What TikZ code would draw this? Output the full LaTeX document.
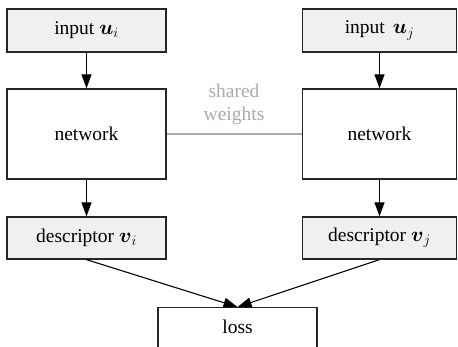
\documentclass[tikz,border=0pt]{standalone}
\usepackage{amsmath}
\usepackage{fontspec}
\setmainfont{Liberation Serif}
\usetikzlibrary{arrows.meta}
\definecolor{boxfill}{HTML}{F0F0F0}
\definecolor{sharegray}{HTML}{AAAAAA}
\tikzset{
  txt/.style={font=\fontsize{19.5}{23}\selectfont},
  block/.style={draw=black!85, line width=1.3pt, rectangle, inner sep=0pt, txt},
  io/.style={block, fill=boxfill},
  flow/.style={line width=1.1pt, -{Triangle[length=14pt,width=10pt]}},
}
\begin{document}
\begin{tikzpicture}[x=1pt,y=-1pt]
\useasboundingbox (0,0) rectangle (458,347);
\clip (0,0) rectangle (458,347);
% left branch
\node[io, minimum width=159pt, minimum height=43pt] (ini) at (86.5,30.5) {input $\boldsymbol{u}_i$};
\node[block, fill=white, minimum width=159pt, minimum height=90pt] (neti) at (86.5,134) {network};
\node[io, minimum width=159pt, minimum height=42pt] (desci) at (86.5,238) {descriptor $\boldsymbol{v}_i$};
% right branch
\node[io, minimum width=154pt, minimum height=43pt] (inj) at (379.5,30.5) {input\, $\boldsymbol{u}_j$};
\node[block, fill=white, minimum width=154pt, minimum height=90pt] (netj) at (379.5,134) {network};
\node[io, minimum width=154pt, minimum height=42pt] (descj) at (379.5,238) {descriptor $\boldsymbol{v}_j$};
% loss
\node[block, fill=white, minimum width=159pt, minimum height=60pt, anchor=north] (loss) at (237.5,307) {};
\node[txt] (losstxt) at (237.5,327) {loss};
% weight sharing
\draw[sharegray, line width=1.1pt] (neti.east) -- (netj.west);
\node[text=sharegray, align=center, font=\fontsize{19.5}{23}\selectfont] (share) at (234,104.5) {shared\\weights};
% data flow
\draw[flow] (ini) -- (neti);
\draw[flow] (inj) -- (netj);
\draw[flow] (neti) -- (desci);
\draw[flow] (netj) -- (descj);
\draw[flow] (desci.south) -- (loss.north);
\draw[flow] (descj.south) -- (loss.north);
\end{tikzpicture}
\end{document}
